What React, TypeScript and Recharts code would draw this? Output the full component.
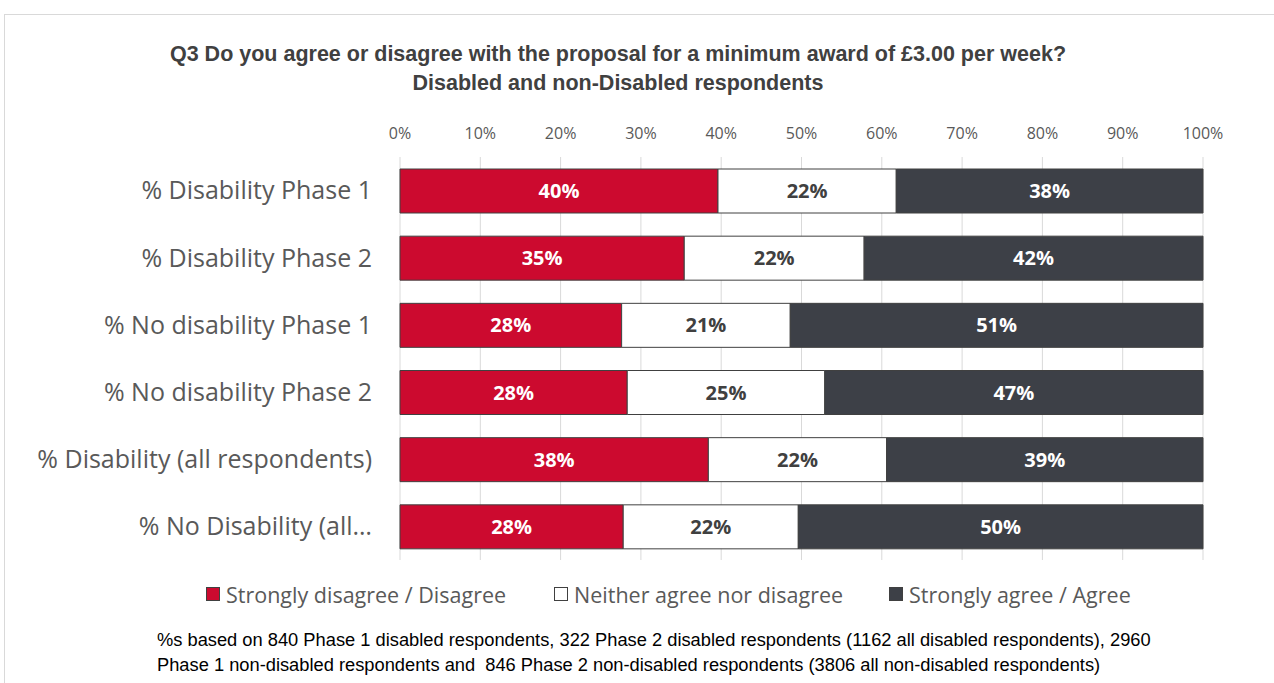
import React from 'react';
import { BarChart, Bar, XAxis, YAxis, CartesianGrid, LabelList, Legend } from 'recharts';

const categories = [
  '% Disability Phase 1',
  '% Disability Phase 2',
  '% No disability Phase 1',
  '% No disability Phase 2',
  '% Disability (all respondents)',
  '% No Disability (all respondents)',
];
const disagree = [39.6, 35.4, 27.6, 28.3, 38.4, 27.8];
const neither = [22.2, 22.4, 21.0, 24.6, 22.2, 21.8];
const agree = [38.2, 42.2, 51.4, 47.1, 39.4, 50.4];
const xTicks = [0, 10, 20, 30, 40, 50, 60, 70, 80, 90, 100];

const SERIES = [
  { key: 'disagree', name: 'Strongly disagree / Disagree', color: '#cc0a2f', text: '#ffffff' },
  { key: 'neither', name: 'Neither agree nor disagree', color: '#ffffff', text: '#404040' },
  { key: 'agree', name: 'Strongly agree / Agree', color: '#3d4047', text: '#ffffff' },
];

const data = categories.map((name, i) => ({
  name,
  disagree: disagree[i],
  neither: neither[i],
  agree: agree[i],
}));

const FONT = '"Open Sans", "Noto Sans", sans-serif';

// excel cuts long category names
const shortName = (v: string) => (v.length > 30 ? v.slice(0, 20) + '…' : v);

const LegendBox = () => (
  <div style={{ display: 'flex', alignItems: 'center', height: 40, marginTop: 14, paddingLeft: 206, fontFamily: FONT, fontSize: 21.5, color: '#595959' }}>
    {SERIES.map((s, i) => (
      <div key={s.key} style={{ display: 'flex', alignItems: 'center', marginRight: i === 0 ? 48 : 46 }}>
        <span style={{ width: 12, height: 12, background: s.color, border: '1px solid #404040', marginRight: 6, display: 'inline-block' }} />
        {s.name}
      </div>
    ))}
  </div>
);

export default function App() {
  return (
    <div style={{ position: 'absolute', left: 0, top: 0, width: 1274, height: 683, background: '#fff', overflow: 'hidden' }}>
      <div style={{ position: 'absolute', left: 4, top: 14, width: 1300, height: 700, border: '1px solid #d9d9d9' }} />
      <div style={{ position: 'absolute', left: 0, top: 40, width: 1236, textAlign: 'center', fontFamily: '"Liberation Sans", Arial, sans-serif', fontWeight: 'bold', fontSize: 21.5, color: '#404040', lineHeight: '29px' }}>
        Q3 Do you agree or disagree with the proposal for a minimum award of £3.00 per week?
        <br />
        Disabled and non-Disabled respondents
      </div>
      <div style={{ position: 'absolute', left: 0, top: 0 }}>
        <BarChart width={1274} height={683} data={data} layout="vertical" margin={{ top: 127, right: 71, bottom: 69, left: 0 }} barSize={44}>
          <CartesianGrid horizontal={false} stroke="#d9d9d9" />
          <XAxis
            type="number"
            orientation="top"
            domain={[0, 100]}
            ticks={xTicks}
            height={30}
            axisLine={false}
            tickLine={false}
            tickMargin={12}
            tickFormatter={(v: number) => `${v}%`}
            tick={{ fill: '#595959', fontSize: 16, fontFamily: FONT }}
          />
          <YAxis
            type="category"
            dataKey="name"
            width={400}
            axisLine={false}
            tickLine={false}
            tickMargin={22}
            tickFormatter={shortName}
            tick={{ fill: '#595959', fontSize: 25, fontFamily: FONT }}
          />
          <Legend verticalAlign="bottom" content={() => <LegendBox />} />
          {SERIES.map((s) => (
            <Bar key={s.key} dataKey={s.key} name={s.name} stackId="a" fill={s.color} stroke="#404040" strokeWidth={1} isAnimationActive={false}>
              <LabelList
                dataKey={s.key}
                position="center"
                formatter={(v: number) => `${Math.round(v)}%`}
                fill={s.text}
                style={{ fontSize: 20, fontWeight: 'bold', fontFamily: FONT }}
              />
            </Bar>
          ))}
        </BarChart>
      </div>
      <div style={{ position: 'absolute', left: 157, top: 627, fontFamily: '"Liberation Sans", Arial, sans-serif', fontSize: 18.3, color: '#000', lineHeight: '25px' }}>
        %s based on 840 Phase 1 disabled respondents, 322 Phase 2 disabled respondents (1162 all disabled respondents), 2960
        <br />
        Phase 1 non-disabled respondents and&nbsp; 846 Phase 2 non-disabled respondents (3806 all non-disabled respondents)
      </div>
    </div>
  );
}
